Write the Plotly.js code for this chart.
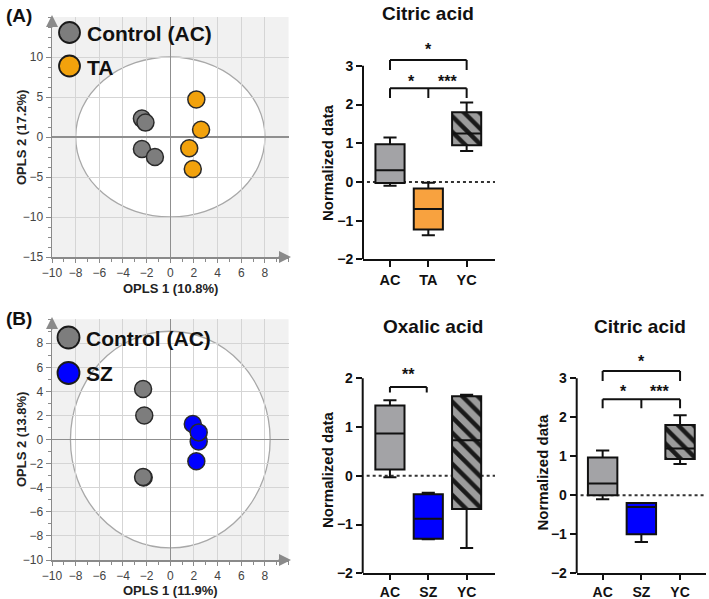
<!DOCTYPE html>
<html><head><meta charset="utf-8">
<script src="https://cdn.plot.ly/plotly-3.0.1.min.js"></script>
<style>html,body{margin:0;padding:0;background:#fff}#chart{width:709px;height:599px}</style>
</head><body><div id="chart"></div>
<script>
// ---------- data ----------
const pcaA_ctrl_x = [-2.4, -2.1, -2.4, -1.3];
const pcaA_ctrl_y = [2.3, 1.8, -1.5, -2.5];
const pcaA_ta_x = [2.2, 2.6, 1.6, 1.9];
const pcaA_ta_y = [4.7, 0.9, -1.4, -4.0];
const pcaB_ctrl_x = [-2.3, -2.2, -2.25, -2.3];
const pcaB_ctrl_y = [4.2, 2.0, -3.15, -3.1];
const pcaB_sz_x = [1.9, 2.4, 2.4, 2.2];
const pcaB_sz_y = [1.3, -0.15, 0.6, -1.8];

const catsA = ['AC', 'TA', 'YC'];
const citricA_low  = [-0.10, -1.38, 0.80];
const citricA_q1   = [-0.03, -1.23, 0.95];
const citricA_med  = [0.30, -0.70, 1.25];
const citricA_q3   = [0.97, -0.17, 1.80];
const citricA_high = [1.15, -0.02, 2.05];

const catsB = ['AC', 'SZ', 'YC'];
const oxalicB_low  = [-0.03, -1.30, -1.48];
const oxalicB_q1   = [0.13, -1.29, -0.68];
const oxalicB_med  = [0.87, -0.88, 0.73];
const oxalicB_q3   = [1.44, -0.38, 1.63];
const oxalicB_high = [1.55, -0.35, 1.66];

const citricB_low  = [-0.10, -1.20, 0.80];
const citricB_q1   = [0.00, -1.00, 0.93];
const citricB_med  = [0.30, -0.30, 1.20];
const citricB_q3   = [0.97, -0.20, 1.80];
const citricB_high = [1.15, -0.20, 2.05];

// significance brackets: [fromIndex, toIndex, y, drop, middleTick]
const sigA_brackets = [[0, 2, 3.15, 0.26, false], [0, 2, 2.42, 0.25, true]];
const sigA_labels = [['*', 1, 3.49], ['*', 0.55, 2.67], ['***', 1.5, 2.67]];
const sigOx_brackets = [[0, 0.96, 1.82, 0.11, false]];
const sigOx_labels = [['**', 0.48, 2.13]];
const sigCB_brackets = [[0, 2, 3.19, 0.26, false], [0, 2, 2.46, 0.23, true]];
const sigCB_labels = [['*', 1, 3.51], ['*', 0.55, 2.73], ['***', 1.46, 2.73]];

// ---------- helpers ----------
const W = 709, H = 599;
const PX = p => p / W;
const PY = p => 1 - p / H;
const FONT = 'Arial, "Liberation Sans", sans-serif';

const colTA = '#f8a23f', colSZ = '#0000ff', hatchBg = '#9c9c9c';

const traces = [];
const shapes = [];
const annotations = [];

// PCA scatter
function pca(xa, ya, xs, ys, color) {
  traces.push({type: 'scatter', mode: 'markers', x: xs, y: ys, xaxis: xa, yaxis: ya,
    showlegend: false, hoverinfo: 'skip',
    marker: {size: 17, color: color, line: {color: '#2a2a2a', width: 1.5}}});
}
pca('x', 'y', pcaA_ctrl_x, pcaA_ctrl_y, '#7d7d7d');
pca('x', 'y', pcaA_ta_x, pcaA_ta_y, '#f2a20c');
pca('x3', 'y3', pcaB_ctrl_x, pcaB_ctrl_y, '#7d7d7d');
pca('x3', 'y3', pcaB_sz_x, pcaB_sz_y, '#0000ff');

// box panels
function boxes(xa, ya, cats, low, q1, med, q3, high, colors, hatchIdx) {
  cats.forEach((c, i) => {
    traces.push({type: 'box', x: [c], q1: [q1[i]], median: [med[i]], q3: [q3[i]],
      lowerfence: [low[i]], upperfence: [high[i]], xaxis: xa, yaxis: ya,
      width: 0.76, whiskerwidth: 0.45, boxpoints: false, showlegend: false, hoverinfo: 'skip',
      fillcolor: i === hatchIdx ? 'rgba(0,0,0,0)' : colors[i],
      line: {color: '#111', width: 2}});
  });
  // hatched fill for one box (bars render below box outlines)
  traces.push({type: 'bar', x: [cats[hatchIdx]], y: [q3[hatchIdx] - q1[hatchIdx]], base: [q1[hatchIdx]],
    width: [0.76], xaxis: xa, yaxis: ya, showlegend: false, hoverinfo: 'skip',
    marker: {color: hatchBg, line: {width: 0},
      pattern: {shape: '\\', fgcolor: '#1a1a1a', bgcolor: hatchBg, size: 11, solidity: 0.4}}});
}
boxes('x2', 'y2', catsA, citricA_low, citricA_q1, citricA_med, citricA_q3, citricA_high, ['#a3a3a6', colTA, null], 2);
boxes('x4', 'y4', catsB, oxalicB_low, oxalicB_q1, oxalicB_med, oxalicB_q3, oxalicB_high, ['#a3a3a6', colSZ, null], 2);
boxes('x5', 'y5', catsB, citricB_low, citricB_q1, citricB_med, citricB_q3, citricB_high, ['#a3a3a6', colSZ, null], 2);

function brackets(xa, ya, list, labels) {
  list.forEach(b => {
    const [a, c, y, d, mid] = b;
    const ln = {color: '#111', width: 2};
    shapes.push({type: 'line', xref: xa, yref: ya, x0: a, x1: c, y0: y, y1: y, line: ln});
    shapes.push({type: 'line', xref: xa, yref: ya, x0: a, x1: a, y0: y, y1: y - d, line: ln});
    shapes.push({type: 'line', xref: xa, yref: ya, x0: c, x1: c, y0: y, y1: y - d, line: ln});
    if (mid) {
      const m = (a + c) / 2;
      shapes.push({type: 'line', xref: xa, yref: ya, x0: m, x1: m, y0: y, y1: y - d, line: ln});
    }
  });
  labels.forEach(l => {
    annotations.push({xref: xa, yref: ya, x: l[1], y: l[2], text: l[0], showarrow: false,
      yanchor: 'middle', yshift: -3, font: {family: FONT, size: 16, weight: 'bold', color: '#111'}});
  });
}
brackets('x2', 'y2', sigA_brackets, sigA_labels);
brackets('x4', 'y4', sigOx_brackets, sigOx_labels);
brackets('x5', 'y5', sigCB_brackets, sigCB_labels);

// box panel decorations: y axis line and dotted zero line
function boxDeco(xa, ya, ymin, ymax) {
  shapes.push({type: 'line', xref: xa + ' domain', yref: ya, x0: 0, x1: 0, y0: ymin, y1: ymax,
    line: {color: '#111', width: 2}});
  shapes.push({type: 'line', xref: xa + ' domain', yref: ya, x0: 0.03, x1: 1, y0: 0, y1: 0,
    line: {color: '#333', width: 2, dash: 'dot'}, layer: 'below'});
}
boxDeco('x2', 'y2', -2, 3);
boxDeco('x4', 'y4', -2, 2);
boxDeco('x5', 'y5', -2, 3);

// PCA decorations: grey background, Hotelling ellipse, arrows
function pcaDeco(xa, ya, ex, ey) {
  shapes.push({type: 'rect', xref: xa + ' domain', yref: ya + ' domain', x0: 0, x1: 1, y0: 0, y1: 1,
    fillcolor: '#f1f1f1', line: {width: 0}, layer: 'below'});
  shapes.push({type: 'circle', xref: xa, yref: ya, x0: -ex, x1: ex, y0: -ey, y1: ey,
    fillcolor: '#ffffff', line: {color: '#a8a8a8', width: 1.3}, layer: 'below'});
}
pcaDeco('x', 'y', 8, 10);
pcaDeco('x3', 'y3', 8.44, 9);

function arrow(xp, yp, ax, ay) {
  annotations.push({xref: 'paper', yref: 'paper', x: PX(xp), y: PY(yp), ax: ax, ay: ay, text: '',
    showarrow: true, arrowhead: 2, arrowsize: 1.6, arrowwidth: 1.5, arrowcolor: '#8a8a8a'});
}
arrow(291, 257, -14, 0);
arrow(52, 15, 0, 14);
arrow(291, 560, -14, 0);
arrow(52, 317, 0, 14);

// legend inside PCA plots
function legendItem(cx, cy, color, label, d) {
  shapes.push({type: 'circle', xref: 'paper', yref: 'paper',
    x0: PX(cx - d / 2), x1: PX(cx + d / 2), y0: PY(cy + d / 2), y1: PY(cy - d / 2),
    fillcolor: color, line: {color: '#1a1a1a', width: 1.8}});
  annotations.push({xref: 'paper', yref: 'paper', x: PX(cx + 15), y: PY(cy + 1), text: label,
    xanchor: 'left', yanchor: 'middle', showarrow: false,
    font: {family: FONT, size: 21, weight: 'bold', color: '#111'}});
}
legendItem(69.5, 32.5, '#7d7d7d', 'Control (AC)', 21);
legendItem(69.5, 66, '#f2a20c', 'TA', 21);
legendItem(68.5, 337.5, '#7d7d7d', 'Control (AC)', 22);
legendItem(68.5, 373, '#0000ff', 'SZ', 22);

// text labels
function txt(x, y, text, size, angle, color) {
  annotations.push({xref: 'paper', yref: 'paper', x: PX(x), y: PY(y), text: text, showarrow: false,
    xanchor: 'center', yanchor: 'middle', textangle: angle || 0,
    font: {family: FONT, size: size, weight: 'bold', color: color || '#111'}});
}
txt(19, 15, '(A)', 19);
txt(19, 318, '(B)', 19);
txt(170, 288, 'OPLS 1 (10.8%)', 13, 0, '#222');
txt(22, 138, 'OPLS 2 (17.2%)', 13, -90, '#222');
txt(170, 590, 'OPLS 1 (11.9%)', 13, 0, '#222');
txt(22, 440, 'OPLS 2 (13.8%)', 13, -90, '#222');
txt(428, 13, 'Citric acid', 19);
txt(433, 326, 'Oxalic acid', 19);
txt(640, 326, 'Citric acid', 19);
txt(327, 163, 'Normalized data', 15, -90);
txt(327, 470, 'Normalized data', 15, -90);
txt(541.5, 472, 'Normalized data', 15, -90);

// ---------- axes ----------
const pcaX = (dom, anchor) => ({domain: dom, anchor: anchor, range: [-10, 10], showline: true,
  linecolor: '#8a8a8a', linewidth: 1.5, ticks: 'outside', ticklen: 4, tickcolor: '#8a8a8a',
  tickvals: [-10, -8, -6, -4, -2, 0, 2, 4, 6, 8], showgrid: true, gridcolor: '#d5d5d5', gridwidth: 1,
  zeroline: true, zerolinecolor: '#8f8f8f', zerolinewidth: 1.5,
  minor: {ticks: 'outside', ticklen: 3, tickcolor: '#8a8a8a', dtick: 1, tick0: 0, showgrid: false},
  tickfont: {family: FONT, size: 12, color: '#444'}, fixedrange: true});
const pcaY = (dom, anchor, range, vals, minorD) => ({domain: dom, anchor: anchor, range: range, showline: true,
  linecolor: '#8a8a8a', linewidth: 1.5, ticks: 'outside', ticklen: 5, tickcolor: '#8a8a8a',
  tickvals: vals, showgrid: true, gridcolor: '#d5d5d5', gridwidth: 1,
  zeroline: true, zerolinecolor: '#8f8f8f', zerolinewidth: 1.5,
  minor: {ticks: 'outside', ticklen: 3, tickcolor: '#8a8a8a', dtick: minorD, tick0: 0, showgrid: false},
  tickfont: {family: FONT, size: 12, color: '#444'}, fixedrange: true});
const boxX = (dom, anchor, range, cats, fs, tl) => ({domain: dom, anchor: anchor, type: 'category',
  categoryorder: 'array', categoryarray: cats, range: range,
  showline: true, linecolor: '#111', linewidth: 2, ticks: 'outside', ticklen: tl, tickwidth: 2,
  tickcolor: '#111', showgrid: false, zeroline: false,
  tickfont: {family: FONT, size: fs, weight: 'bold', color: '#111'}, fixedrange: true});
const boxY = (dom, anchor, range, vals) => ({domain: dom, anchor: anchor, range: range,
  showline: false, ticks: 'outside', ticklen: 6, tickwidth: 2, tickcolor: '#111', tickvals: vals,
  showgrid: false, zeroline: false,
  tickfont: {family: FONT, size: 14, weight: 'bold', color: '#111'}, fixedrange: true});

const layout = {
  width: W, height: H, margin: {l: 0, r: 0, t: 0, b: 0}, paper_bgcolor: '#fff', plot_bgcolor: 'rgba(0,0,0,0)',
  showlegend: false, barmode: 'overlay', boxmode: 'overlay', bargap: 0,
  xaxis: pcaX([PX(52), PX(288.6)], 'y'),
  yaxis: pcaY([PY(257), PY(17)], 'x', [-15, 15], [-15, -10, -5, 0, 5, 10], 1.25),
  xaxis3: pcaX([PX(52), PX(288.6)], 'y3'),
  yaxis3: pcaY([PY(560), PY(319.2)], 'x3', [-10, 10], [-10, -8, -6, -4, -2, 0, 2, 4, 6, 8], 1),
  xaxis2: boxX([PX(363), PX(495)], 'y2', [-0.705, 2.74], catsA, 14.5, 6),
  yaxis2: boxY([PY(259.3), PY(42.6)], 'x2', [-2, 3.6], [-2, -1, 0, 1, 2, 3]),
  xaxis4: boxX([PX(362.7), PX(495)], 'y4', [-0.71, 2.74], catsB, 14, 5),
  yaxis4: boxY([PY(573.3), PY(358.8)], 'x4', [-2, 2.4], [-2, -1, 0, 1, 2]),
  xaxis5: boxX([PX(576.7), PX(706)], 'y5', [-0.67, 2.67], catsB, 14, 5),
  yaxis5: boxY([PY(573.3), PY(354.9)], 'x5', [-2, 3.6], [-2, -1, 0, 1, 2, 3]),
  shapes: shapes, annotations: annotations
};

Plotly.newPlot('chart', traces, layout, {displayModeBar: false, staticPlot: true});
</script>
</body></html>
